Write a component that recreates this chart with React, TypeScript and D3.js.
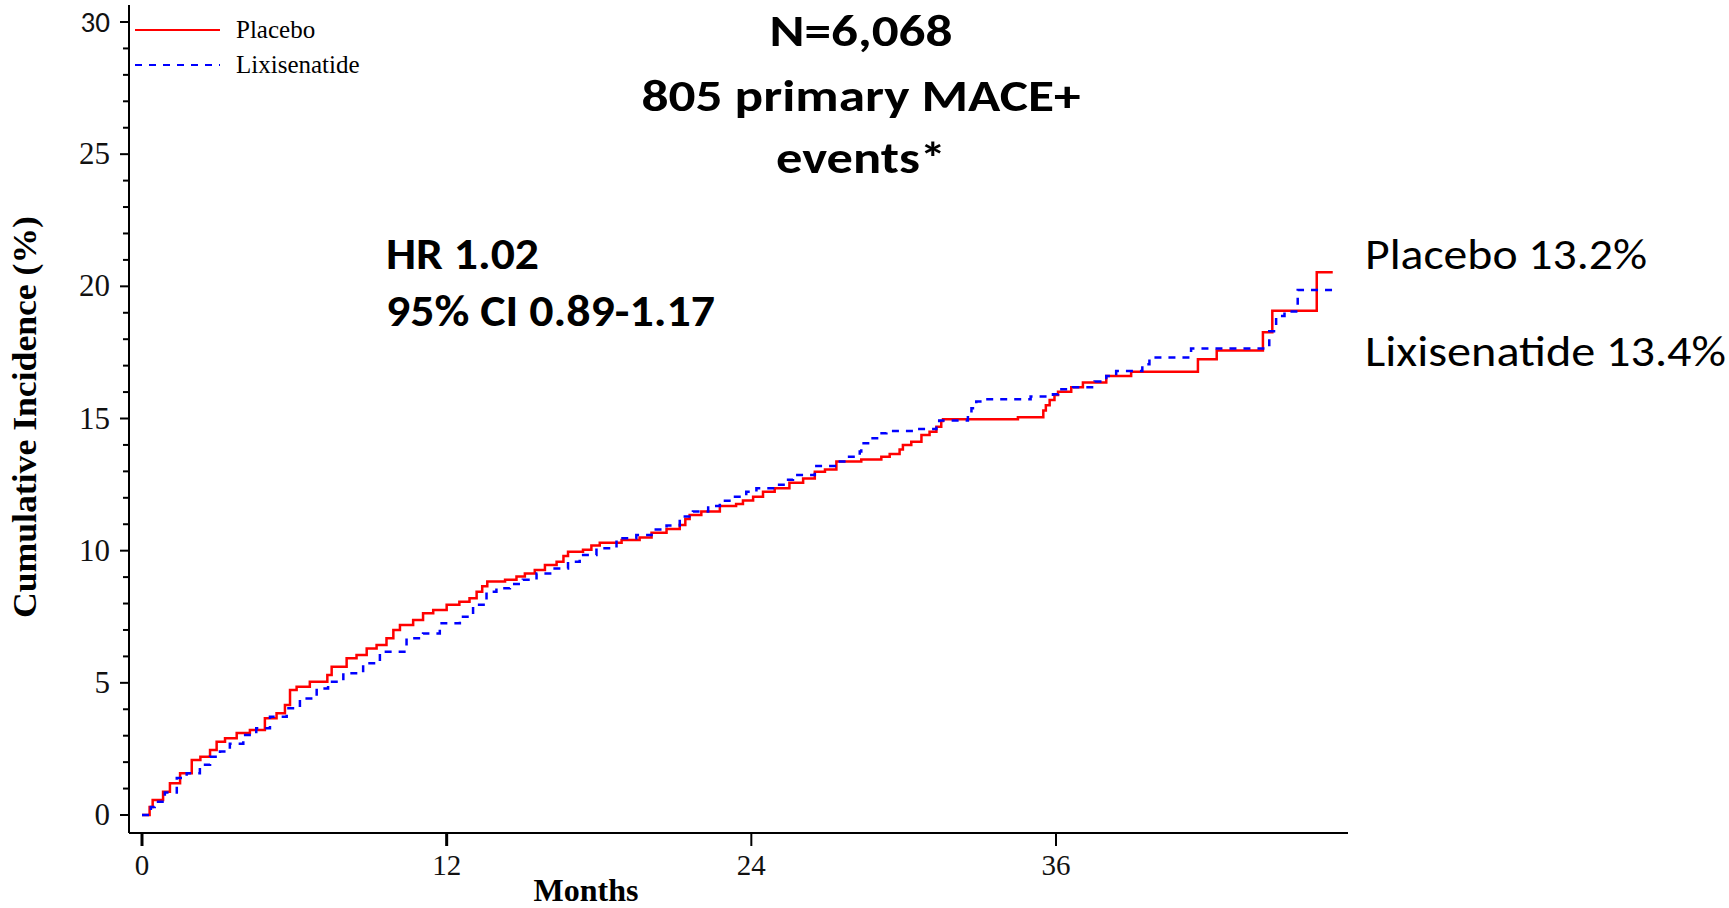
import { useMemo } from "react";
import * as d3 from "d3";

const W = 1729;
const H = 908;

// step points: [month, cumulative incidence %]
const placeboSteps: [number, number][] = [
  [0, 0], [0.3, 0.3], [0.42, 0.57], [0.83, 0.88], [1.1, 1.2], [1.5, 1.58], [1.96, 2.08],
  [2.3, 2.2], [2.68, 2.46], [2.94, 2.77], [3.27, 2.9], [3.73, 3.1], [4.25, 3.22],
  [4.84, 3.66], [5.3, 3.85], [5.63, 4.16], [5.83, 4.73], [6.09, 4.85], [6.61, 5.04],
  [7.3, 5.3], [7.47, 5.61], [8.06, 5.93], [8.45, 6.05], [8.85, 6.3], [9.24, 6.43],
  [9.63, 6.69], [9.9, 7.0], [10.16, 7.19], [10.68, 7.38], [11.07, 7.63], [11.47, 7.76],
  [12.0, 7.95], [12.5, 8.07], [12.9, 8.2], [13.18, 8.45], [13.4, 8.65], [13.6, 8.83],
  [14.3, 8.9], [14.75, 9.02], [15.08, 9.14], [15.47, 9.27], [15.87, 9.46], [16.33, 9.58],
  [16.6, 9.8], [16.78, 9.96], [17.37, 10.03], [17.7, 10.2], [18.03, 10.3], [18.89, 10.4],
  [19.6, 10.5], [20.07, 10.68], [20.66, 10.82], [21.18, 10.97], [21.4, 11.2], [21.57, 11.35],
  [22.03, 11.48], [22.76, 11.69], [23.4, 11.77], [23.67, 11.9], [24.07, 12.04],
  [24.46, 12.23], [24.92, 12.36], [25.5, 12.57], [26.04, 12.73], [26.5, 12.99],
  [26.9, 13.07], [27.35, 13.37], [28.33, 13.45], [29.12, 13.55], [29.45, 13.66],
  [29.84, 13.83], [29.97, 14.0], [30.3, 14.12], [30.7, 14.38], [31.02, 14.5],
  [31.29, 14.69], [31.48, 14.91], [31.55, 14.97], [34.5, 15.05], [35.5, 15.3],
  [35.6, 15.5], [35.75, 15.7], [35.94, 15.89], [36.08, 16.01], [36.6, 16.18],
  [37.06, 16.36], [37.98, 16.61], [38.96, 16.77], [41.59, 17.24], [42.33, 17.57],
  [44.15, 18.26], [44.52, 19.08], [46.27, 20.53], [46.9, 20.53],
];

const lixiSteps: [number, number][] = [
  [0, 0], [0.35, 0.3], [0.5, 0.5], [0.9, 0.85], [1.37, 1.4], [1.76, 1.58], [2.28, 1.9],
  [2.68, 2.2], [3.07, 2.4], [3.46, 2.7], [3.99, 3.03], [4.5, 3.28], [5.04, 3.72],
  [5.7, 4.04], [6.22, 4.41], [6.88, 4.79], [7.33, 5.04], [7.93, 5.36], [8.71, 5.74],
  [9.37, 6.18], [10.42, 6.69], [11.07, 6.87], [11.73, 7.25], [12.52, 7.5], [13.04, 7.95],
  [13.57, 8.45], [13.96, 8.58], [14.49, 8.74], [15.0, 8.9], [15.54, 9.14], [16.13, 9.33],
  [16.78, 9.58], [17.24, 9.84], [17.9, 10.09], [18.69, 10.47], [19.47, 10.59],
  [20.07, 10.8], [20.66, 10.95], [21.18, 11.29], [21.7, 11.48], [22.3, 11.69],
  [22.76, 11.89], [23.28, 12.04], [23.8, 12.23], [24.2, 12.36], [24.99, 12.49],
  [25.38, 12.68], [25.64, 12.86], [26.5, 13.2], [27.35, 13.37], [27.74, 13.55],
  [28.27, 13.75], [28.33, 14.06], [28.66, 14.25], [29.06, 14.44], [29.32, 14.53],
  [30.5, 14.6], [31.29, 14.76], [31.4, 14.92], [32.53, 15.13], [32.67, 15.39],
  [32.86, 15.64], [33.12, 15.73], [35.0, 15.83], [35.88, 15.92], [36.08, 16.11],
  [36.67, 16.18], [37.52, 16.4], [37.98, 16.61], [38.37, 16.8], [39.4, 17.05],
  [39.68, 17.31], [41.32, 17.65], [44.4, 18.3], [44.67, 18.88], [45.0, 19.05],
  [45.52, 19.86], [46.9, 19.86],
];

const xTicks = [0, 12, 24, 36];
const yTicks = [0, 5, 10, 15, 20, 25, 30];
const titleLines = ["N=6,068", "805 primary MACE+", "events*"];
const titleWidths = [183, 439, 170];
const hrLines = ["HR 1.02", "95% CI 0.89-1.17"];
const hrWidths = [153, 329];
const rateLines = ["Placebo 13.2%", "Lixisenatide 13.4%"];
const rateWidths = [282, 361];

const serif = "'Liberation Serif', 'Times New Roman', serif";
const sans = "Calibri, Carlito, 'Open Sans', sans-serif";

const App = () => {
  const x = d3.scaleLinear().domain([0, 36]).range([142, 1056]);
  const y = d3.scaleLinear().domain([0, 30]).range([815, 22]);

  const line = useMemo(
    () =>
      d3
        .line<[number, number]>()
        .x((d) => x(d[0]))
        .y((d) => y(d[1]))
        .curve(d3.curveStepAfter),
    [x, y]
  );

  const minorTicks = d3.range(0, 31).filter((v) => v % 5 !== 0);
  const axisY = 833;
  const axisX = 129;

  return (
    <svg
      width={W}
      height={H}
      viewBox={`0 0 ${W} ${H}`}
      style={{ position: "absolute", left: 0, top: 0, background: "#fff" }}
    >
      {/* axes */}
      <g stroke="#000" strokeWidth={2}>
        <line x1={axisX} x2={axisX} y1={5} y2={axisY} />
        <line x1={axisX} x2={1348} y1={axisY} y2={axisY} />
        {yTicks.map((t) => (
          <line key={t} x1={axisX - 9} x2={axisX} y1={y(t)} y2={y(t)} />
        ))}
        {minorTicks.map((t) => (
          <line key={t} x1={axisX - 6} x2={axisX} y1={y(t)} y2={y(t)} />
        ))}
        {xTicks.map((t) => (
          <line key={t} x1={x(t)} x2={x(t)} y1={axisY} y2={axisY + 13} strokeWidth={t < 13 ? 3 : 2} />
        ))}
      </g>
      <g fontFamily={serif} fontSize={31} fill="#111">
        {yTicks.map((t) => (
          <text
            key={t}
            x={110}
            y={y(t) + 10}
            textAnchor="end"
            fontFamily={t === 30 ? sans : serif}
            fontSize={t === 30 ? 29 : 31}
          >
            {t}
          </text>
        ))}
        {xTicks.map((t) => (
          <text key={t} x={x(t)} y={875} textAnchor="middle" fontSize={29}>
            {t}
          </text>
        ))}
      </g>
      <text
        transform="translate(36,417) rotate(-90)"
        textAnchor="middle"
        fontFamily={serif}
        fontWeight="bold"
        fontSize={33}
        textLength={402}
        lengthAdjust="spacingAndGlyphs"
      >
        Cumulative Incidence (%)
      </text>
      <text x={586} y={901} textAnchor="middle" fontFamily={serif} fontWeight="bold" fontSize={32}>
        Months
      </text>

      {/* curves */}
      <path d={line(placeboSteps) ?? ""} fill="none" stroke="#ff0000" strokeWidth={2.5} />
      <path
        d={line(lixiSteps) ?? ""}
        fill="none"
        stroke="#0000ff"
        strokeWidth={2.5}
        strokeDasharray="7,7"
      />

      {/* legend */}
      <line x1={135} x2={220} y1={30} y2={30} stroke="#ff0000" strokeWidth={2} />
      <line x1={135} x2={220} y1={65} y2={65} stroke="#0000ff" strokeWidth={2} strokeDasharray="7,7" />
      <text x={236} y={38} fontFamily={serif} fontSize={25}>Placebo</text>
      <text x={236} y={73} fontFamily={serif} fontSize={25}>Lixisenatide</text>

      {/* annotations */}
      <g fontFamily={sans} fontSize={45} fontWeight="bold" textAnchor="middle">
        {titleLines.map((s, i) => (
          <text key={s} x={861} y={[46, 111, 173][i]} textLength={titleWidths[i]} lengthAdjust="spacingAndGlyphs">
            {s}
          </text>
        ))}
      </g>
      <g fontFamily={sans} fontSize={44} fontWeight="bold">
        {hrLines.map((s, i) => (
          <text key={s} x={386} y={[269, 326][i]} textLength={hrWidths[i]} lengthAdjust="spacingAndGlyphs">
            {s}
          </text>
        ))}
      </g>
      <g fontFamily={sans} fontSize={44}>
        {rateLines.map((s, i) => (
          <text key={s} x={1365} y={[269, 366][i]} textLength={rateWidths[i]} lengthAdjust="spacingAndGlyphs">
            {s}
          </text>
        ))}
      </g>
    </svg>
  );
};

export default App;
